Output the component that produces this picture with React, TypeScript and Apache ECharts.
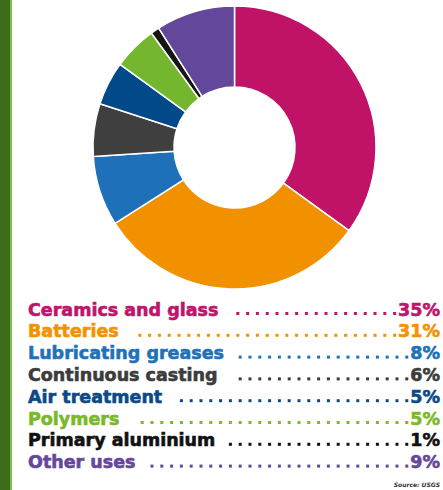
import React, { useEffect, useRef } from "react";
import * as echarts from "echarts";

// Uses of the metal, share of total consumption (%)
const categories = [
  "Ceramics and glass",
  "Batteries",
  "Lubricating greases",
  "Continuous casting",
  "Air treatment",
  "Polymers",
  "Primary aluminium",
  "Other uses",
];
const shares = [35, 31, 8, 6, 5, 5, 1, 9];
const sliceColors = [
  "#C01368",
  "#F29100",
  "#1E70B8",
  "#3F3F3F",
  "#02498A",
  "#74B72E",
  "#151515",
  "#63479A",
];
const labelColors = [
  "#C0136B",
  "#F39200",
  "#1F71B8",
  "#3C3C3C",
  "#0A4A85",
  "#7AB929",
  "#111111",
  "#65479A",
];
const sourceNote = "Source: USGS";

const FONT_FAMILY = '"DejaVu Sans", sans-serif';
const FONT_SIZE = 17.5;

function measure(text: string): number {
  const ctx = document.createElement("canvas").getContext("2d");
  if (!ctx) return text.length * FONT_SIZE * 0.6;
  ctx.font = `bold ${FONT_SIZE}px ${FONT_FAMILY}`;
  return ctx.measureText(text).width;
}

function buildLegend(): any[] {
  const left = 28;
  const right = 440;
  const top = 309.5;
  const step = 21.8;
  const dotGap = 9.8;
  const els: any[] = [];
  categories.forEach((name, i) => {
    const y = top + i * step;
    const color = labelColors[i];
    const pct = `${shares[i]}%`;
    const textStyle = {
      fill: color,
      stroke: color,
      lineWidth: 0.6,
      font: `bold ${FONT_SIZE}px ${FONT_FAMILY}`,
      verticalAlign: "middle",
    };
    els.push({
      type: "text",
      x: left,
      y,
      style: { ...textStyle, text: name, align: "left" },
    });
    els.push({
      type: "text",
      x: right,
      y,
      style: { ...textStyle, text: pct, align: "right" },
    });
    // dotted leader, laid out from the percentage leftwards
    const textEnd = left + measure(name);
    const pctLeft = right - measure(pct);
    for (let x = pctLeft - 3.5; x >= textEnd + 13.5; x -= dotGap) {
      els.push({
        type: "rect",
        shape: { x: x - 1.5, y: y + 4 - 1.5, width: 3, height: 3 },
        style: { fill: color },
        silent: true,
      });
    }
  });
  return els;
}

export default function App() {
  const ref = useRef<HTMLDivElement>(null);

  useEffect(() => {
    if (!ref.current) return;
    const chart = echarts.init(ref.current, undefined, { renderer: "svg" });
    chart.setOption({
      animation: false,
      backgroundColor: "#ffffff",
      series: [
        {
          type: "pie",
          center: [234.5, 147.5],
          radius: [60.5, 141.5],
          startAngle: 90,
          clockwise: true,
          silent: true,
          label: { show: false },
          labelLine: { show: false },
          itemStyle: { borderColor: "#ffffff", borderWidth: 1.5 },
          data: categories.map((name, i) => ({
            name,
            value: shares[i],
            itemStyle: { color: sliceColors[i] },
          })),
        },
      ],
      graphic: [
        // side rule
        {
          type: "rect",
          shape: { x: 0, y: 0, width: 10, height: 490 },
          style: { fill: "#3E6B1C" },
        },
        {
          type: "rect",
          shape: { x: 10, y: 0, width: 2, height: 490 },
          style: { fill: "#7CC24B" },
        },
        ...buildLegend(),
        {
          type: "text",
          x: 440,
          y: 484,
          style: {
            text: sourceNote,
            fill: "#333333",
            font: `italic bold 6px ${FONT_FAMILY}`,
            align: "right",
            verticalAlign: "middle",
          },
        },
      ],
    });
    return () => chart.dispose();
  }, []);

  return (
    <div
      ref={ref}
      style={{ position: "fixed", left: 0, top: 0, width: 443, height: 490 }}
    />
  );
}
